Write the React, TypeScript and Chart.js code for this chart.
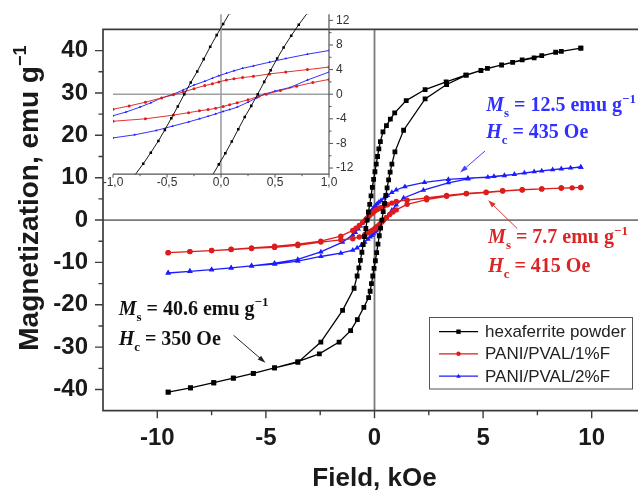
import React, { useEffect, useRef } from 'react';
import { Chart, registerables } from 'chart.js';

Chart.register(...registerables);

// ---------- data (field in kOe, magnetization in emu/g) ----------
// hexaferrite powder: descending branch then ascending branch
const hexDownField = [9.5, 8.6, 7.7, 6.8, 5.85, 4.9, 4.2, 3.3, 2.33, 1.46, 0.93, 0.73, 0.55, 0.39, 0.27, 0.2, 0.14, 0.08, 0.02, -0.04, -0.1, -0.16, -0.22, -0.28, -0.34, -0.4, -0.46, -0.52, -0.58, -0.65, -0.72, -0.8, -0.94, -1.47, -2.47, -3.53, -4.6, -5.58, -6.5, -7.4, -8.47, -9.5];
const hexDownMag = [40.6, 39.8, 38.8, 37.8, 36.6, 35.3, 34.2, 32.6, 30.8, 28.2, 25.3, 23.8, 22.3, 20.8, 18.5, 16.8, 15.0, 13.2, 11.4, 9.6, 7.7, 5.7, 3.7, 1.9, 0.0, -2.0, -3.9, -5.8, -7.6, -9.5, -11.3, -13.2, -16.1, -21.3, -28.8, -33.6, -34.9, -36.2, -37.3, -38.4, -39.6, -40.6];
const hexUpField = [-9.5, -8.47, -7.4, -6.5, -5.58, -4.6, -3.53, -2.54, -1.63, -1.1, -0.79, -0.49, -0.27, -0.2, -0.14, -0.08, -0.02, 0.04, 0.1, 0.16, 0.22, 0.28, 0.34, 0.4, 0.46, 0.52, 0.58, 0.65, 0.72, 0.8, 0.94, 1.34, 2.33, 3.32, 4.23, 5.2, 6.36, 7.35, 8.34, 9.5];
const hexUpMag = [-40.6, -39.6, -38.4, -37.3, -36.2, -34.9, -33.4, -31.6, -28.8, -26.1, -23.5, -20.6, -18.3, -16.8, -15.0, -13.2, -11.4, -9.6, -7.7, -5.7, -3.7, -1.9, 0.0, 2.0, 3.9, 5.8, 7.6, 9.5, 11.3, 13.2, 16.1, 21.2, 28.6, 32.0, 34.2, 35.8, 37.2, 38.3, 39.6, 40.6];

// PANI/PVAL/1%F
const f1DownField = [9.5, 8.6, 7.7, 6.8, 5.9, 5.14, 4.23, 3.32, 2.4, 1.5, 1.0, 0.8, 0.6, 0.45, 0.3, 0.2, 0.12, 0.05, -0.02, -0.08, -0.15, -0.25, -0.35, -0.44, -0.55, -0.7, -0.85, -1.0, -1.55, -2.47, -3.53, -4.6, -5.66, -6.6, -7.5, -8.5, -9.5];
const f1DownMag = [7.7, 7.55, 7.35, 7.15, 6.9, 6.6, 6.3, 5.8, 5.2, 4.7, 4.4, 4.0, 3.6, 3.3, 2.9, 2.7, 2.5, 2.3, 2.0, 1.7, 1.4, 0.9, 0.35, -0.1, -0.6, -1.3, -1.9, -2.45, -3.8, -5.0, -5.7, -6.2, -6.6, -6.9, -7.2, -7.45, -7.7];
const f1UpField = [-9.5, -8.5, -7.5, -6.6, -5.66, -4.6, -3.53, -2.47, -1.55, -1.0, -0.7, -0.44, -0.3, -0.2, -0.12, -0.05, 0.02, 0.08, 0.15, 0.25, 0.35, 0.42, 0.55, 0.7, 0.85, 1.0, 1.5, 2.4, 3.32, 4.23, 5.14, 5.9, 6.8, 7.7, 8.6, 9.1, 9.5];
const f1UpMag = [-7.7, -7.45, -7.2, -6.95, -6.7, -6.45, -6.0, -5.2, -4.7, -4.4, -4.0, -3.4, -3.0, -2.7, -2.5, -2.3, -2.0, -1.7, -1.4, -0.9, -0.35, 0.0, 0.6, 1.3, 1.9, 2.4, 3.7, 4.8, 5.6, 6.2, 6.5, 6.85, 7.1, 7.35, 7.55, 7.6, 7.7];

// PANI/PVAL/2%F
const f2DownField = [9.5, 8.6, 7.7, 6.9, 5.98, 5.22, 4.3, 3.4, 2.3, 1.4, 1.0, 0.8, 0.6, 0.45, 0.3, 0.2, 0.12, 0.05, -0.02, -0.08, -0.15, -0.25, -0.35, -0.44, -0.55, -0.65, -0.75, -0.88, -1.0, -1.47, -2.47, -3.53, -4.6, -5.66, -6.6, -7.5, -8.5, -9.5];
const f2DownMag = [12.5, 12.1, 11.6, 11.1, 10.5, 10.1, 9.9, 9.6, 8.9, 7.9, 7.1, 6.5, 5.8, 5.2, 4.6, 4.2, 3.8, 3.4, 3.0, 2.6, 2.1, 1.5, 0.7, 0.0, -0.6, -1.4, -2.1, -2.9, -3.5, -5.2, -7.5, -9.3, -10.2, -10.8, -11.3, -11.7, -12.1, -12.5];
const f2UpField = [-9.5, -8.5, -7.5, -6.6, -5.66, -4.6, -3.53, -2.47, -1.55, -1.0, -0.8, -0.6, -0.45, -0.3, -0.2, -0.12, -0.05, 0.02, 0.08, 0.15, 0.25, 0.33, 0.4, 0.5, 0.64, 0.8, 1.0, 1.34, 2.25, 3.4, 4.3, 5.5, 6.44, 7.35, 8.2, 9.03, 9.5];
const f2UpMag = [-12.5, -12.1, -11.7, -11.3, -10.8, -10.4, -9.7, -8.6, -7.8, -7.1, -6.6, -5.9, -5.2, -4.5, -4.0, -3.6, -3.2, -2.8, -2.5, -2.1, -1.3, -0.6, 0.0, 0.5, 1.1, 2.3, 3.6, 5.2, 7.06, 8.8, 9.7, 10.3, 10.8, 11.4, 11.9, 12.3, 12.5];

const seriesLabels = ['hexaferrite powder', 'PANI/PVAL/1%F', 'PANI/PVAL/2%F'];

// axis ticks
const xTicks = [-10, -5, 0, 5, 10];
const xMinorTicks = [-7.5, -2.5, 2.5, 7.5];
const yTicks = [-40, -30, -20, -10, 0, 10, 20, 30, 40];
const yMinorTicks = [-35, -25, -15, -5, 5, 15, 25, 35];
const insetXTicks = [-1, -0.5, 0, 0.5, 1];
const insetXMinor = [-0.75, -0.25, 0.25, 0.75];
const insetYTicks = [-12, -8, -4, 0, 4, 8, 12];
const insetYMinor = [-10, -6, -2, 2, 6, 10];

// annotations: [Ms value, Hc value]
const annHex = ['40.6', '350'];
const annF1 = ['7.7', '415'];
const annF2 = ['12.5', '435'];

// ---------- styling ----------
const SANS = "'Liberation Sans', Arial, Helvetica, sans-serif";
const SERIF = "'Liberation Serif', 'Times New Roman', serif";
const COLORS = ['#000000', '#dd1c1c', '#1c1cff'];
const TEXT_COLORS = ['#111111', '#d92626', '#3030ff'];
const STYLES = ['rect', 'circle', 'triangle'];

function pts(h: number[], m: number[]) {
  return h.map((x, i) => ({ x, y: m[i] }));
}

const loops = [
  pts([...hexDownField, ...hexUpField], [...hexDownMag, ...hexUpMag]),
  pts([...f1DownField, ...f1UpField], [...f1DownMag, ...f1UpMag]),
  pts([...f2DownField, ...f2UpField], [...f2DownMag, ...f2UpMag]),
];

type Part = { t: string; it?: boolean; sub?: boolean; sup?: boolean };

function richWidth(ctx: CanvasRenderingContext2D, parts: Part[], size: number, family: string) {
  let w = 0;
  for (const p of parts) {
    const fs = p.sub || p.sup ? size * 0.65 : size;
    ctx.font = `${p.it ? 'italic ' : ''}bold ${fs}px ${family}`;
    w += ctx.measureText(p.t).width;
  }
  return w;
}

function drawRich(ctx: CanvasRenderingContext2D, x: number, y: number, parts: Part[], size: number, color: string, family: string) {
  let cx = x;
  ctx.fillStyle = color;
  ctx.textAlign = 'left';
  ctx.textBaseline = 'alphabetic';
  for (const p of parts) {
    const fs = p.sub || p.sup ? size * 0.65 : size;
    ctx.font = `${p.it ? 'italic ' : ''}bold ${fs}px ${family}`;
    const dy = p.sub ? size * 0.3 : p.sup ? -size * 0.42 : 0;
    ctx.fillText(p.t, cx, y + dy);
    cx += ctx.measureText(p.t).width;
  }
}

function drawArrow(ctx: CanvasRenderingContext2D, x1: number, y1: number, x2: number, y2: number, color: string) {
  const ang = Math.atan2(y2 - y1, x2 - x1);
  const hl = 8, hw = 2.6;
  ctx.save();
  ctx.strokeStyle = color;
  ctx.fillStyle = color;
  ctx.lineWidth = 1;
  ctx.beginPath();
  ctx.moveTo(x1, y1);
  ctx.lineTo(x2 - Math.cos(ang) * hl * 0.8, y2 - Math.sin(ang) * hl * 0.8);
  ctx.stroke();
  ctx.beginPath();
  ctx.moveTo(x2, y2);
  ctx.lineTo(x2 - hl * Math.cos(ang) + hw * Math.sin(ang), y2 - hl * Math.sin(ang) - hw * Math.cos(ang));
  ctx.lineTo(x2 - hl * Math.cos(ang) - hw * Math.sin(ang), y2 - hl * Math.sin(ang) + hw * Math.cos(ang));
  ctx.closePath();
  ctx.fill();
  ctx.restore();
}

function drawMarker(ctx: CanvasRenderingContext2D, style: string, x: number, y: number, r: number, color: string) {
  ctx.fillStyle = color;
  ctx.beginPath();
  if (style === 'rect') {
    ctx.rect(x - r, y - r, 2 * r, 2 * r);
  } else if (style === 'circle') {
    ctx.arc(x, y, r, 0, Math.PI * 2);
  } else {
    ctx.moveTo(x, y - r * 1.1);
    ctx.lineTo(x + r, y + r * 0.7);
    ctx.lineTo(x - r, y + r * 0.7);
    ctx.closePath();
  }
  ctx.fill();
}

const msParts = (v: string): Part[] => [
  { t: 'M', it: true },
  { t: 's', sub: true },
  { t: ' = ' + v + ' emu g' },
  { t: '\u22121', sup: true },
];
const hcParts = (v: string): Part[] => [
  { t: 'H', it: true },
  { t: 'c', sub: true },
  { t: ' = ' + v + ' Oe' },
];

const mainDecor = {
  id: 'mainDecor',
  beforeDatasetsDraw(chart: any) {
    const { ctx, chartArea: a, scales } = chart;
    const x0 = scales.x.getPixelForValue(0);
    const y0 = scales.y.getPixelForValue(0);
    ctx.save();
    ctx.strokeStyle = '#7a7a7a';
    ctx.lineWidth = 1.8;
    ctx.beginPath();
    ctx.moveTo(a.left, y0);
    ctx.lineTo(a.right, y0);
    ctx.moveTo(x0, a.top);
    ctx.lineTo(x0, a.bottom);
    ctx.stroke();
    ctx.restore();
  },
  afterDraw(chart: any) {
    const { ctx, chartArea: a, scales } = chart;
    const sx = scales.x, sy = scales.y;
    ctx.save();
    // frame
    ctx.strokeStyle = '#3c3c3c';
    ctx.lineWidth = 1.7;
    ctx.beginPath();
    ctx.moveTo(a.right, a.top);
    ctx.lineTo(a.left, a.top);
    ctx.lineTo(a.left, a.bottom);
    ctx.lineTo(a.right, a.bottom);
    ctx.stroke();
    // ticks
    ctx.lineWidth = 1.4;
    ctx.beginPath();
    for (const v of yTicks) { const p = sy.getPixelForValue(v); ctx.moveTo(a.left - 8, p); ctx.lineTo(a.left, p); }
    for (const v of yMinorTicks) { const p = sy.getPixelForValue(v); ctx.moveTo(a.left - 4.5, p); ctx.lineTo(a.left, p); }
    for (const v of xTicks) { const p = sx.getPixelForValue(v); ctx.moveTo(p, a.bottom); ctx.lineTo(p, a.bottom + 7.5); }
    for (const v of xMinorTicks) { const p = sx.getPixelForValue(v); ctx.moveTo(p, a.bottom); ctx.lineTo(p, a.bottom + 4.5); }
    ctx.stroke();

    // axis titles
    ctx.fillStyle = '#1a1a1a';
    ctx.font = `bold 26px ${SANS}`;
    ctx.textAlign = 'center';
    ctx.textBaseline = 'middle';
    ctx.fillText('Field, kOe', sx.getPixelForValue(0), 479);

    ctx.save();
    ctx.translate(38, 198);
    ctx.rotate(-Math.PI / 2);
    const yParts: Part[] = [{ t: 'Magnetization, emu g' }, { t: '\u22121', sup: true }];
    const w = richWidth(ctx, yParts, 28, SANS);
    drawRich(ctx, -w / 2, 0, yParts, 28, '#1a1a1a', SANS);
    ctx.restore();

    // annotations (data coordinates)
    const P = (x: number, y: number) => [sx.getPixelForValue(x), sy.getPixelForValue(y)];
    const fs = 20;
    let [tx, ty] = P(5.14, 25.7);
    drawRich(ctx, tx, ty, msParts(annF2[0]), fs, TEXT_COLORS[2], SERIF);
    [tx, ty] = P(5.14, 19.4);
    drawRich(ctx, tx, ty, hcParts(annF2[1]), fs, TEXT_COLORS[2], SERIF);
    [tx, ty] = P(5.23, -5.5);
    drawRich(ctx, tx, ty, msParts(annF1[0]), fs, TEXT_COLORS[1], SERIF);
    [tx, ty] = P(5.23, -12.2);
    drawRich(ctx, tx, ty, hcParts(annF1[1]), fs, TEXT_COLORS[1], SERIF);
    [tx, ty] = P(-11.78, -22.3);
    drawRich(ctx, tx, ty, msParts(annHex[0]), fs, TEXT_COLORS[0], SERIF);
    [tx, ty] = P(-11.78, -29.4);
    drawRich(ctx, tx, ty, hcParts(annHex[1]), fs, TEXT_COLORS[0], SERIF);

    let [ax1, ay1] = P(5.09, 16.3); let [ax2, ay2] = P(3.94, 11.2);
    drawArrow(ctx, ax1, ay1, ax2, ay2, '#4444ff');
    [ax1, ay1] = P(6.57, -2.0); [ax2, ay2] = P(5.23, 4.7);
    drawArrow(ctx, ax1, ay1, ax2, ay2, '#dd3333');
    [ax1, ay1] = P(-6.49, -27.2); [ax2, ay2] = P(-5.02, -33.7);
    drawArrow(ctx, ax1, ay1, ax2, ay2, '#222222');

    // legend
    const lx = 429.5, ly = 317.5, lw = 203, lh = 71.5;
    ctx.fillStyle = '#ffffff';
    ctx.fillRect(lx, ly, lw, lh);
    ctx.strokeStyle = '#555555';
    ctx.lineWidth = 1;
    ctx.strokeRect(lx, ly, lw, lh);
    const rows = [331.7, 353.8, 376.2];
    seriesLabels.forEach((lab, i) => {
      const y = rows[i];
      ctx.strokeStyle = COLORS[i];
      ctx.lineWidth = 1.2;
      ctx.beginPath();
      ctx.moveTo(439, y);
      ctx.lineTo(478, y);
      ctx.stroke();
      drawMarker(ctx, STYLES[i], 458.5, y, 2.2, COLORS[i]);
      ctx.fillStyle = '#222222';
      ctx.font = `17px ${SANS}`;
      ctx.textAlign = 'left';
      ctx.textBaseline = 'middle';
      ctx.fillText(lab, 485, y + 1);
    });
    ctx.restore();
  },
};

const insetDecor = {
  id: 'insetDecor',
  beforeDatasetsDraw(chart: any) {
    const { ctx, chartArea: a, scales } = chart;
    const x0 = scales.x.getPixelForValue(0);
    const y0 = scales.y.getPixelForValue(0);
    ctx.save();
    ctx.strokeStyle = '#a0a0a0';
    ctx.lineWidth = 1.6;
    ctx.beginPath();
    ctx.moveTo(a.left, y0);
    ctx.lineTo(a.right, y0);
    ctx.moveTo(x0, a.top);
    ctx.lineTo(x0, a.bottom);
    ctx.stroke();
    ctx.restore();
  },
  afterDraw(chart: any) {
    const { ctx, chartArea: a, scales } = chart;
    const sx = scales.x, sy = scales.y;
    ctx.save();
    ctx.strokeStyle = '#555555';
    ctx.lineWidth = 1.2;
    ctx.beginPath();
    ctx.moveTo(a.right, a.top);
    ctx.lineTo(a.right, a.bottom);
    ctx.lineTo(a.left, a.bottom);
    ctx.stroke();
    ctx.lineWidth = 1;
    ctx.beginPath();
    for (const v of insetYTicks) { const p = sy.getPixelForValue(v); ctx.moveTo(a.right, p); ctx.lineTo(a.right + 4, p); }
    for (const v of insetYMinor) { const p = sy.getPixelForValue(v); ctx.moveTo(a.right, p); ctx.lineTo(a.right + 2.5, p); }
    for (const v of insetXTicks) { const p = sx.getPixelForValue(v); ctx.moveTo(p, a.bottom); ctx.lineTo(p, a.bottom + 3.5); }
    for (const v of insetXMinor) { const p = sx.getPixelForValue(v); ctx.moveTo(p, a.bottom); ctx.lineTo(p, a.bottom + 2); }
    ctx.stroke();
    ctx.restore();
  },
};

function makeDatasets(inset: boolean) {
  return loops.map((data, i) => ({
    label: seriesLabels[i],
    data,
    showLine: true,
    borderColor: COLORS[i],
    backgroundColor: COLORS[i],
    borderWidth: inset ? 0.9 : 1.3,
    pointStyle: STYLES[i],
    pointRadius: inset ? (i === 0 ? 1.8 : 1.5) : (i === 0 ? 3.4 : i === 1 ? 2.7 : 3.2),
    pointBorderWidth: 0,
    tension: 0,
  }));
}

function mainConfig(): any {
  return {
    type: 'scatter',
    data: { datasets: makeDatasets(false) },
    plugins: [mainDecor],
    options: {
      animation: false,
      responsive: false,
      devicePixelRatio: 1,
      events: [],
      layout: { padding: { left: 0, right: 14, top: 6.6, bottom: 0 } },
      plugins: { legend: { display: false }, tooltip: { enabled: false } },
      scales: {
        x: {
          type: 'linear',
          min: -12.5,
          max: 12.5,
          afterBuildTicks: (s: any) => { s.ticks = xTicks.map((v) => ({ value: v })); },
          afterFit: (s: any) => { s.height = 499 - 410.7; },
          grid: { display: false, drawTicks: false },
          border: { display: false },
          ticks: { font: { family: SANS, size: 24, weight: 'bold' }, color: '#1a1a1a', padding: 13, maxRotation: 0, autoSkip: false },
        },
        y: {
          type: 'linear',
          min: -45,
          max: 45,
          afterBuildTicks: (s: any) => { s.ticks = yTicks.map((v) => ({ value: v })); },
          afterFit: (s: any) => { s.width = 103; },
          grid: { display: false, drawTicks: false },
          border: { display: false },
          ticks: { font: { family: SANS, size: 24, weight: 'bold' }, color: '#1a1a1a', padding: 15, autoSkip: false },
        },
      },
    },
  };
}

function insetConfig(): any {
  return {
    type: 'scatter',
    data: { datasets: makeDatasets(true) },
    plugins: [insetDecor],
    options: {
      animation: false,
      responsive: false,
      devicePixelRatio: 1,
      events: [],
      layout: { padding: { left: 113, right: 0, top: 13.8, bottom: 0 } },
      plugins: { legend: { display: false }, tooltip: { enabled: false } },
      scales: {
        x: {
          type: 'linear',
          min: -1,
          max: 1,
          afterBuildTicks: (s: any) => { s.ticks = insetXTicks.map((v) => ({ value: v })); },
          afterFit: (s: any) => { s.height = 200 - 174.2; },
          grid: { display: false, drawTicks: false },
          border: { display: false },
          ticks: {
            font: { family: SANS, size: 12 },
            color: '#333333',
            padding: 1,
            maxRotation: 0,
            autoSkip: false,
            callback: (v: any) => Number(v).toFixed(1).replace('.', ','),
          },
        },
        y: {
          type: 'linear',
          position: 'right',
          min: -13,
          max: 13,
          afterBuildTicks: (s: any) => { s.ticks = insetYTicks.map((v) => ({ value: v })); },
          afterFit: (s: any) => { s.width = 360 - 329; },
          grid: { display: false, drawTicks: false },
          border: { display: false },
          ticks: { font: { family: SANS, size: 12 }, color: '#333333', padding: 7, autoSkip: false },
        },
      },
    },
  };
}

export default function App() {
  const mainRef = useRef<HTMLCanvasElement>(null);
  const insetRef = useRef<HTMLCanvasElement>(null);
  useEffect(() => {
    const c1 = new Chart(mainRef.current as HTMLCanvasElement, mainConfig());
    const c2 = new Chart(insetRef.current as HTMLCanvasElement, insetConfig());
    return () => {
      c1.destroy();
      c2.destroy();
    };
  }, []);
  return (
    <div style={{ position: 'fixed', left: 0, top: 0, width: 638, height: 499, overflow: 'hidden', background: '#ffffff' }}>
      <canvas ref={mainRef} width={660} height={499} style={{ position: 'absolute', left: 0, top: 0, width: 660, height: 499 }} />
      <canvas ref={insetRef} width={360} height={200} style={{ position: 'absolute', left: 0, top: 0, width: 360, height: 200 }} />
    </div>
  );
}
